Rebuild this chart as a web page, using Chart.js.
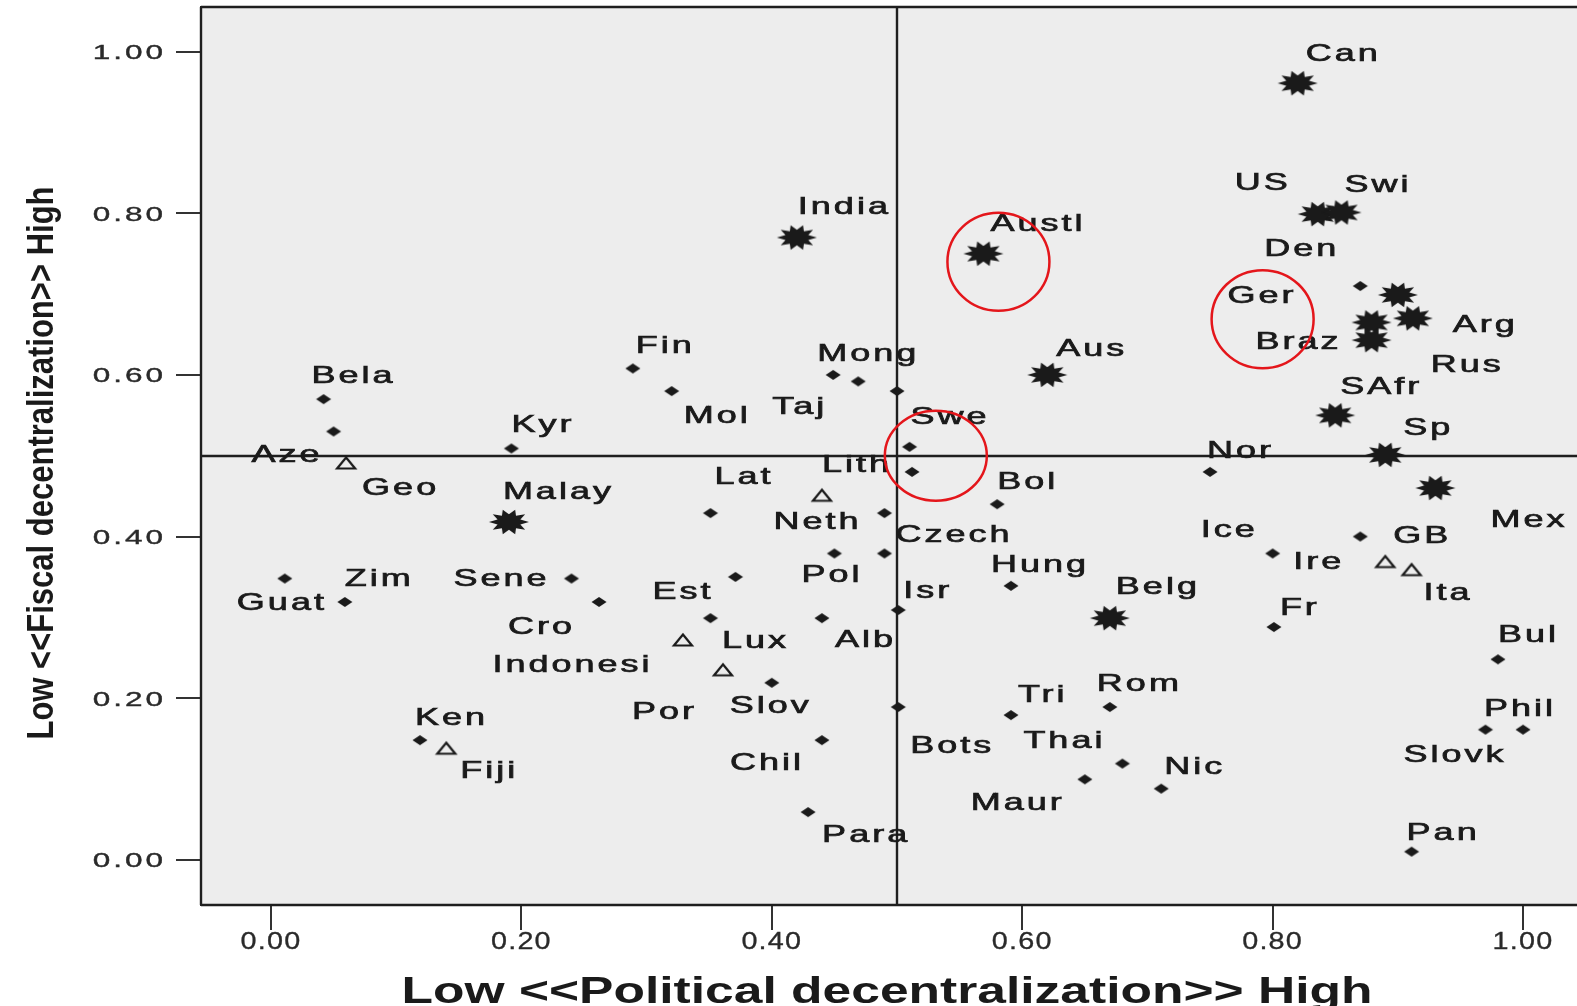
<!DOCTYPE html>
<html>
<head>
<meta charset="utf-8">
<title>Political vs fiscal decentralization</title>
<script src="https://cdn.jsdelivr.net/npm/chart.js@4.4.0/dist/chart.umd.min.js"></script>
<style>
  html, body { margin: 0; padding: 0; background: #fff; overflow: hidden; }
</style>
</head>
<body>
<canvas id="scatter" width="1584" height="1006"></canvas>
<script>
// ─── Data ─────────────────────────────────────────────────────────
const countries = [
  'Can', 'US', 'Swi', 'Den', 'India', 'Austl', 'Rus', 'Arg', 'Ger', 'Braz',
  'Aus', 'SAfr', 'Sp', 'Mex', 'Malay', 'Belg', 'Fin', 'Mol', 'Mong', 'Taj',
  '', 'Swe', '', 'Lith', 'Bela', 'Aze', 'Geo', 'Kyr', 'Nor', 'Lat',
  'Bol', 'Neth', 'Czech', 'Pol', 'Est', 'Hung', 'Isr', 'Zim', 'Sene', 'Guat',
  'Cro', 'Alb', 'Lux', 'Indonesi', 'Por', 'Slov', 'Chil', 'Para', 'Bots', 'Tri',
  'Rom', 'Thai', 'Maur', 'Nic', 'Ken', 'Fiji', 'Ice', 'Ire', 'GB', 'Ita',
  'Fr', 'Bul', 'Phil', 'Slovk', 'Pan'
];
const politicalDec = [
  0.82, 0.836, 0.855, 0.87, 0.42, 0.569, 0.90, 0.912, 0.879, 0.879,
  0.62, 0.85, 0.89, 0.93, 0.19, 0.67, 0.289, 0.32, 0.449, 0.469,
  0.50, 0.51, 0.512, 0.44, 0.042, 0.05, 0.06, 0.192, 0.75, 0.351,
  0.58, 0.49, 0.49, 0.45, 0.371, 0.591, 0.501, 0.011, 0.24, 0.059,
  0.262, 0.44, 0.329, 0.351, 0.361, 0.40, 0.44, 0.429, 0.501, 0.591,
  0.67, 0.68, 0.65, 0.711, 0.119, 0.14, 0.80, 0.89, 0.87, 0.911,
  0.801, 0.98, 1.00, 0.97, 0.911
];
const fiscalDec = [
  0.961, 0.799, 0.801, 0.71, 0.77, 0.75, 0.699, 0.67, 0.665, 0.643,
  0.60, 0.55, 0.501, 0.46, 0.418, 0.299, 0.608, 0.58, 0.60, 0.592,
  0.58, 0.511, 0.48, 0.451, 0.57, 0.53, 0.491, 0.509, 0.48, 0.429,
  0.44, 0.429, 0.379, 0.379, 0.35, 0.339, 0.309, 0.348, 0.348, 0.319,
  0.319, 0.299, 0.272, 0.299, 0.235, 0.219, 0.148, 0.059, 0.189, 0.179,
  0.189, 0.119, 0.0995, 0.088, 0.148, 0.138, 0.379, 0.369, 0.40, 0.359,
  0.288, 0.248, 0.161, 0.161, 0.01
];
// marker group: star / dot / tri
const markerGroup = [
  'star', 'star', 'star', 'dot', 'star', 'star', 'star', 'star', 'star', 'star',
  'star', 'star', 'star', 'star', 'star', 'star', 'dot', 'dot', 'dot', 'dot',
  'dot', 'dot', 'dot', 'tri', 'dot', 'dot', 'tri', 'dot', 'dot', 'dot',
  'dot', 'dot', 'dot', 'dot', 'dot', 'dot', 'dot', 'dot', 'dot', 'dot',
  'dot', 'dot', 'tri', 'dot', 'tri', 'dot', 'dot', 'dot', 'dot', 'dot',
  'dot', 'dot', 'dot', 'dot', 'dot', 'tri', 'dot', 'tri', 'dot', 'tri',
  'dot', 'dot', 'dot', 'dot', 'dot'
];

const xTickValues = [0, 0.2, 0.4, 0.6, 0.8, 1.0];
const xTickLabels = ['0.00', '0.20', '0.40', '0.60', '0.80', '1.00'];
const yTickValues = [0, 0.2, 0.4, 0.6, 0.8, 1.0];
const yTickLabels = ['0.00', '0.20', '0.40', '0.60', '0.80', '1.00'];

const xTitle = 'Low <<Political decentralization>> High';
const yTitle = 'Low <<Fiscal decentralization>> High';

const refX = 0.5;   // vertical reference line
const refY = 0.5;   // horizontal reference line

// red highlight circles (centre in data units)
const circleX = [0.581, 0.792, 0.531];
const circleY = [0.740, 0.669, 0.500];

// ─── Styling ──────────────────────────────────────────────────────
// label offset from marker, px (left edge of text, visual centre)
const labelOffset = [
  [8, -31], [-83, -33], [3, -29], [-96, -39], [1, -33], [7, -32], [33, 68], [40, 5], [-144, -28], [-116, 0],
  [9, -28], [5, -30], [18, -29], [55, 30], [-6, -32], [6, -33], [3, -24], [12, 23], [-16, -23], [-86, 24],
  [0, 0], [1, -32], [0, 0], [0, -32], [-12, -25], [-82, 22], [16, 23], [0, -25], [-3, -23], [4, -38],
  [0, -24], [-111, 7], [11, -20], [-33, 20], [-83, 13], [-20, -23], [5, -21], [60, -2], [-118, -2], [-108, -1],
  [-91, 23], [13, 20], [39, -1], [-218, 45], [-91, 40], [-42, 21], [-92, 21], [14, 21], [12, 37], [7, -22],
  [-13, -25], [-99, -25], [-114, 22], [3, -24], [-5, -24], [14, 21], [-72, -25], [-92, -2], [33, -3], [12, 21],
  [6, -21], [0, -26], [-39, -23], [-82, 23], [-5, -21]
];

const INK = '#1a1a1a';
const PLOT_BG = '#ededed';
const LABEL_FONT = '24px "Liberation Sans", Arial, sans-serif';

function makeStar() {
  const c = document.createElement('canvas');
  c.width = 46; c.height = 32;
  const g = c.getContext('2d');
  g.translate(23, 16);
  g.beginPath();
  const n = 10;
  for (let i = 0; i < n * 2; i++) {
    const a = Math.PI * i / n;
    const r = i % 2 ? 0.6 : 1;
    g.lineTo(Math.cos(a) * 20 * r, Math.sin(a) * 13 * r);
  }
  g.closePath();
  g.fillStyle = INK;
  g.fill();
  return c;
}

function makeDot() {
  const c = document.createElement('canvas');
  c.width = 20; c.height = 12;
  const g = c.getContext('2d');
  g.translate(10, 6);
  g.beginPath();
  g.moveTo(0, -5); g.lineTo(7.5, 0); g.lineTo(0, 5); g.lineTo(-7.5, 0);
  g.closePath();
  g.fillStyle = INK;
  g.fill();
  return c;
}

function makeTri() {
  const c = document.createElement('canvas');
  c.width = 24; c.height = 16;
  const g = c.getContext('2d');
  g.translate(12, 8);
  g.beginPath();
  g.moveTo(0, -5.5); g.lineTo(9, 5.5); g.lineTo(-9, 5.5);
  g.closePath();
  g.lineWidth = 2.2;
  g.strokeStyle = INK;
  g.stroke();
  return c;
}

const markerImg = { star: makeStar(), dot: makeDot(), tri: makeTri() };

function stretchedText(ctx, text, x, y, font, sx, spacing, align, weight) {
  ctx.save();
  ctx.font = font;
  ctx.letterSpacing = spacing + 'px';
  ctx.textAlign = 'left';
  ctx.textBaseline = 'alphabetic';
  const w = ctx.measureText(text).width * sx;
  let left = x;
  if (align === 'right') left = x - w;
  else if (align === 'center') left = x - w / 2;
  ctx.translate(left, y);
  ctx.scale(sx, 1);
  ctx.fillText(text, 0, 0);
  if (weight) {
    ctx.lineWidth = weight;
    ctx.strokeStyle = ctx.fillStyle;
    ctx.strokeText(text, 0, 0);
  }
  ctx.restore();
}

// ─── Build datasets ───────────────────────────────────────────────
const groups = ['dot', 'tri', 'star'];
const datasets = groups.map(grp => ({
  label: grp,
  data: countries
    .map((c, i) => ({ x: politicalDec[i], y: fiscalDec[i], idx: i }))
    .filter(p => markerGroup[p.idx] === grp),
  pointStyle: markerImg[grp],
  pointRadius: 6,
  pointHoverRadius: 6,
}));

// ─── Plugins ──────────────────────────────────────────────────────
const decoPlugin = {
  id: 'deco',
  beforeDatasetsDraw(chart) {
    const { ctx, chartArea: a, scales: { x, y } } = chart;
    ctx.save();
    ctx.fillStyle = PLOT_BG;
    ctx.fillRect(a.left, a.top, a.right - a.left, a.bottom - a.top);
    ctx.strokeStyle = '#1e1e1e';
    ctx.lineWidth = 2.4;
    const rx = Math.round(x.getPixelForValue(refX));
    const ry = Math.round(y.getPixelForValue(refY));
    ctx.beginPath();
    ctx.moveTo(rx, a.top); ctx.lineTo(rx, a.bottom);
    ctx.moveTo(a.left, ry); ctx.lineTo(a.right, ry);
    // top, left and bottom frame
    ctx.moveTo(a.left, a.top); ctx.lineTo(a.right, a.top);
    ctx.moveTo(a.left, a.top); ctx.lineTo(a.left, a.bottom);
    ctx.moveTo(a.left, a.bottom); ctx.lineTo(a.right, a.bottom);
    ctx.stroke();
    ctx.restore();
  },
  afterDatasetsDraw(chart) {
    const { ctx, scales: { x, y } } = chart;
    ctx.save();
    ctx.fillStyle = INK;
    chart.data.datasets.forEach((ds, di) => {
      const meta = chart.getDatasetMeta(di);
      ds.data.forEach((p, j) => {
        const name = countries[p.idx];
        if (!name) return;
        const el = meta.data[j];
        const [dx, dy] = labelOffset[p.idx];
        stretchedText(ctx, name, el.x + dx, el.y + dy + 9, LABEL_FONT, 1.5, 2, 'left', 0.7);
      });
    });

    // red highlight circles
    ctx.strokeStyle = '#e4161b';
    ctx.lineWidth = 2.5;
    circleX.forEach((cx, i) => {
      ctx.beginPath();
      ctx.ellipse(x.getPixelForValue(cx), y.getPixelForValue(circleY[i]), 51, i === 2 ? 45 : 49, 0, 0, Math.PI * 2);
      ctx.stroke();
    });
    ctx.restore();
  },
  afterDraw(chart) {
    const { ctx, scales: { x, y } } = chart;
    ctx.save();
    ctx.fillStyle = '#2a2a2a';
    yTickValues.forEach((v, i) => {
      stretchedText(ctx, yTickLabels[i], 166, y.getPixelForValue(v) + 7.5,
        '21px "Liberation Sans", Arial, sans-serif', 1.5, 2, 'right', 0.4);
    });
    xTickValues.forEach((v, i) => {
      stretchedText(ctx, xTickLabels[i], x.getPixelForValue(v), 949,
        '24px "Liberation Sans", Arial, sans-serif', 1.2, 1, 'center', 0.3);
    });

    // axis titles, fitted to the reference length
    ctx.fillStyle = INK;
    ctx.font = 'bold 36px "Liberation Sans", Arial, sans-serif';
    ctx.letterSpacing = '0px';
    const xw = ctx.measureText(xTitle).width;
    stretchedText(ctx, xTitle, 887, 1003, ctx.font, 971 / xw, 0, 'center');

    ctx.font = 'bold 36px "Liberation Sans", Arial, sans-serif';
    const yw = ctx.measureText(yTitle).width;
    ctx.translate(40, 463);
    ctx.rotate(-Math.PI / 2);
    stretchedText(ctx, yTitle, 0, 13, ctx.font, 553 / yw, 0, 'center');
    ctx.restore();
  }
};

// ─── Chart ────────────────────────────────────────────────────────
new Chart(document.getElementById('scatter'), {
  type: 'scatter',
  data: { datasets },
  options: {
    responsive: false,
    animation: false,
    layout: { padding: { left: 176, top: 7, right: 0, bottom: 76 } },
    plugins: { legend: { display: false }, tooltip: { enabled: false } },
    scales: {
      x: {
        type: 'linear',
        min: -0.0559,
        max: 1.0431,
        afterBuildTicks: s => { s.ticks = xTickValues.map(v => ({ value: v })); },
        ticks: { display: false },
        grid: { drawOnChartArea: false, drawTicks: true, tickLength: 25, color: '#333', lineWidth: 2 },
        border: { display: true, color: '#222', width: 2 },
      },
      y: {
        type: 'linear',
        min: -0.056,
        max: 1.0553,
        afterBuildTicks: s => { s.ticks = yTickValues.map(v => ({ value: v })); },
        ticks: { display: false },
        grid: { drawOnChartArea: false, drawTicks: true, tickLength: 25, color: '#333', lineWidth: 2 },
        border: { display: true, color: '#222', width: 2 },
      }
    }
  },
  plugins: [decoPlugin]
});
</script>
</body>
</html>
